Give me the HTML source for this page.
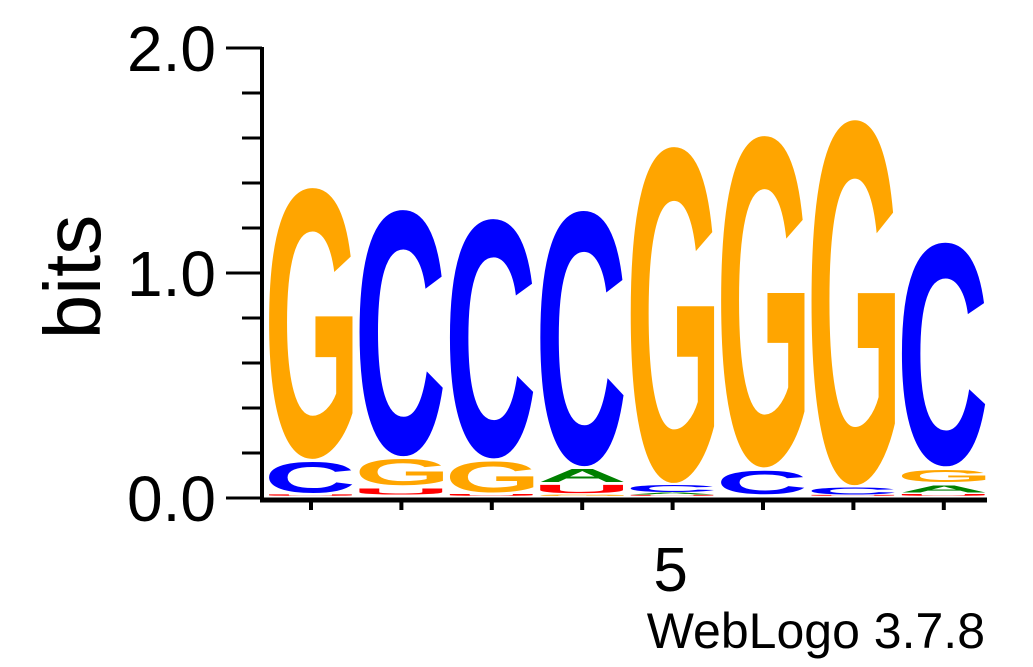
<!DOCTYPE html>
<html><head><meta charset="utf-8"><style>
body{margin:0;background:#fff;}
svg{display:block;font-family:"Liberation Sans",sans-serif;}
</style></head><body>
<svg id="logo" width="1033" height="667" viewBox="0 0 1033 667">
<g id="axes"></g>
<g id="stacks"></g>
<text x="100" y="277" font-size="80" text-anchor="middle" transform="rotate(-90 100 277)">bits</text>
<text x="985" y="648" font-size="50" text-anchor="end">WebLogo 3.7.8</text>
</svg>
<script>
// positions 1..8, letters stacked bottom->top, values in bits
const positions = [1,2,3,4,5,6,7,8];
const stackLetters = [
  ["U","C","G"],
  ["U","G","C"],
  ["U","G","C"],
  ["G","U","A","C"],
  ["U","A","C","G"],
  ["C","G"],
  ["U","C","G"],
  ["U","A","G","C"]
];
const stackBits = [
  [0.008,0.15,1.22],
  [0.04,0.13,1.11],
  [0.01,0.15,1.08],
  [0.006,0.05,0.07,1.15],
  [0.006,0.01,0.035,1.51],
  [0.12,1.49],
  [0.006,0.035,1.64],
  [0.01,0.045,0.07,1.01]
];
const yTicks = [0,1,2];
const yTickLabels = ["0.0","1.0","2.0"];
const xLabelPos = [5];

const NS="http://www.w3.org/2000/svg";
const colors={G:"#FFA500",C:"#0000FF",A:"#008000",U:"#FF0000"};
const y0=496, pxPerBit=225, xAxisLeft=262;
const yScale=v=>y0-v*pxPerBit;
const xScale=p=>311+(p-1)*90.4;
const axes=document.getElementById('axes');
function mk(tag,attrs,parent){const e=document.createElementNS(NS,tag);for(const k in attrs)e.setAttribute(k,attrs[k]);parent.appendChild(e);return e;}
let yl=mk('line',{x1:xAxisLeft,y1:48-1,x2:xAxisLeft,y2:500,stroke:'#000','stroke-width':4},axes);


const axScale=v=>498-v*225;
for(let v=0;v<=10;v++){
  const b=v*0.2, major=(v%5===0);
  const t=mk('line',{x1:major?226:242,y1:axScale(b),x2:xAxisLeft,y2:axScale(b),stroke:'#000','stroke-width':3},axes);
  
  
}
yTicks.forEach((v,i)=>{
  const t=mk('text',{x:216,y:axScale(v)+23,'font-size':64,'text-anchor':'end'},axes);
  t.textContent=yTickLabels[i];
  
  
});
let xl=mk('line',{x1:xAxisLeft-2,y1:500,x2:987,y2:500,stroke:'#000','stroke-width':5},axes);


positions.forEach(p=>{
  const t=mk('line',{x1:xScale(p),y1:498,x2:xScale(p),y2:510,stroke:'#000','stroke-width':4},axes);
  
  
});
xLabelPos.forEach(p=>{
  const t=mk('text',{x:xScale(p)-2,y:591,'font-size':62,'text-anchor':'middle'},axes);
  t.textContent=String(p);
  
  
});
const cv=document.createElement('canvas').getContext('2d');
cv.font='bold 100px "Liberation Sans", sans-serif';
const ink={};
["G","C","A","U"].forEach(L=>{
  const m=cv.measureText(L);
  ink[L]={l:m.actualBoundingBoxLeft||0,r:m.actualBoundingBoxRight||m.width,a:m.actualBoundingBoxAscent||72,d:m.actualBoundingBoxDescent||0};
});
const stacks=document.getElementById('stacks');
const W=84;
positions.forEach((p,i)=>{
  let cum=0;
  stackLetters[i].forEach((L,j)=>{
    const h=stackBits[i][j];
    const bottom=yScale(cum), hp=h*pxPerBit;
    cum+=h;
    if(hp<0.8) return;
    const pad=hp>8?1.5:0.2;
    const inkH=hp-2*pad;
    const k=ink[L];
    const sx=W/(k.l+k.r), sy=inkH/(k.a+k.d);
    const g=mk('g',{transform:`translate(${xScale(p)-W/2},${bottom-pad}) scale(${sx},${sy})`},stacks);
    const t=mk('text',{x:k.l,y:-k.d,'font-size':100,'font-weight':'bold',fill:colors[L]},g);
    t.textContent=L;
    
    
  });
});
</script>
</body></html>
